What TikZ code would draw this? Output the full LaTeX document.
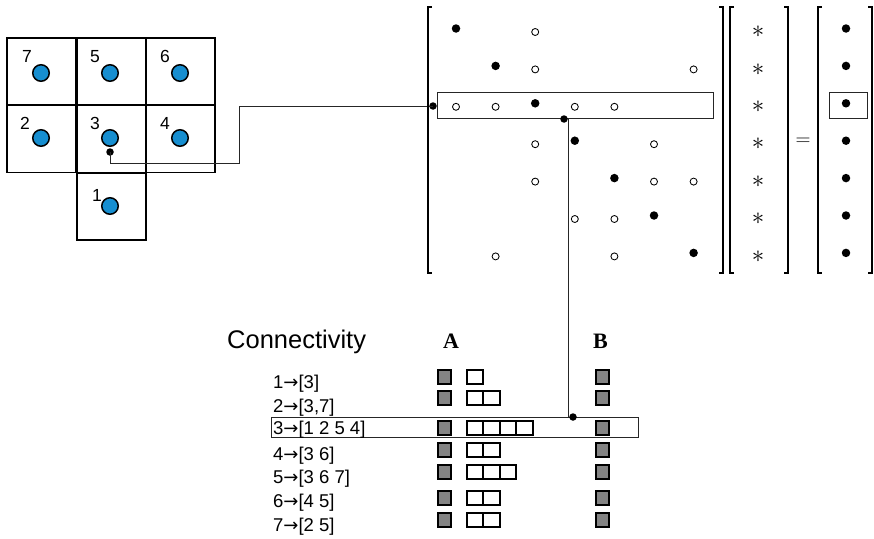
\documentclass[tikz,border=0pt]{standalone}
\usepackage{fontspec}
\setmainfont{Liberation Serif}
\newfontfamily\hv{Liberation Sans}
\newfontfamily\dv{DejaVu Sans}
\usetikzlibrary{calc}
\definecolor{cblue}{RGB}{22,142,208}
\definecolor{sqgray}{RGB}{132,132,132}
\newcommand{\rarr}{{\dv\fontsize{18}{18}\selectfont →}}
\tikzset{
  cellbox/.style={draw, line width=1.8pt, inner sep=0, minimum width=69pt, minimum height=67pt},
  blob/.style={circle, draw, line width=1.5pt, fill=cblue, minimum size=16.5pt, inner sep=0},
  num/.style={font=\hv\fontsize{17.5}{17.5}\selectfont, anchor=base west, inner sep=0},
  opn/.style={circle, draw, line width=0.85pt, minimum size=7pt, inner sep=0},
  fil/.style={circle, fill=black, minimum size=8.5pt, inner sep=0},
  jdot/.style={circle, fill=black, minimum size=7.5pt, inner sep=0},
  conn/.style={line width=0.8pt, draw=black!85},
  brk/.style={line width=1.7pt},
  hl/.style={draw=black!85, line width=0.9pt, inner sep=0},
  gsq/.style={draw, line width=1.9pt, fill=sqgray, minimum size=13.5pt, inner sep=0},
  osq/.style={draw, line width=1.9pt, minimum width=16.5pt, minimum height=13.5pt, inner sep=0},
  lst/.style={font=\hv\fontsize{18.5}{18.5}\selectfont, anchor=base west, inner sep=0},
  star/.style={font=\fontsize{24}{24}\selectfont, inner sep=0},
}
\begin{document}
\begin{tikzpicture}[x=1pt,y=-1pt]
\useasboundingbox (0,0) rectangle (874,538);
% ---- grid of cells
\node[cellbox] (c7) at (41.5,71.5) {};
\node[cellbox] (c5) at (111.5,71.5) {};
\node[cellbox] (c6) at (180.5,71.5) {};
\node[cellbox] (c2) at (41.5,139) {};
\node[cellbox] (c3) at (111.5,139) {};
\node[cellbox] (c4) at (180.5,139) {};
\node[cellbox] (c1) at (111.5,206.5) {};
\node[blob] (b7) at (41,73) {};
\node[blob] (b5) at (110,73) {};
\node[blob] (b6) at (180,73) {};
\node[blob] (b2) at (41,138) {};
\node[blob] (b3) at (110,138) {};
\node[blob] (b4) at (180,138) {};
\node[blob] (b1) at (110,206) {};
\node[num] (n7) at (22,62) {7};
\node[num] (n5) at (90,62) {5};
\node[num] (n6) at (160,62) {6};
\node[num] (n2) at (20,129) {2};
\node[num] (n3) at (90,129) {3};
\node[num] (n4) at (160,129) {4};
\node[num] (n1) at (92,201) {1};
% ---- connector cell 3 -> matrix row 3
\node[jdot] (d1) at (110,152) {};
\node[jdot] (d2) at (433,106) {};
\coordinate (k1) at (239,163);
\draw[conn] (d1.center) -- (d1 |- k1) -- (k1) -- (k1 |- d2) -- (d2.center);
% ---- brackets
\draw[brk] (432,7) -- (428,7) -- (428,273) -- (432,273);
\draw[brk] (719,7) -- (723,7) -- (723,273) -- (719,273);
\draw[brk] (734,7) -- (730,7) -- (730,273) -- (734,273);
\draw[brk] (784,7) -- (788,7) -- (788,273) -- (784,273);
\draw[brk] (822,7) -- (818,7) -- (818,273) -- (822,273);
\draw[brk] (868,7) -- (872,7) -- (872,273) -- (868,273);
% ---- matrix entries
\foreach \r in {1,...,7} {
  \node[fil] (m\r-\r) at ({456+39.6*(\r-1)},{32+37.4*(\r-1)-3.5}) {};
  \node[star] (s\r) at (758,{32+37.4*(\r-1)}) {$\ast$};
  \node[fil] (v\r) at (846,{32+37.4*(\r-1)-3.5}) {};
}
\foreach \r/\c in {1/3, 2/3, 2/7, 3/1, 3/2, 3/4, 3/5, 4/3, 4/6, 5/3, 5/6, 5/7, 6/4, 6/5, 7/2, 7/5} {
  \node[opn] (m\r-\c) at ({456+39.6*(\c-1)},{32+37.4*(\r-1)}) {};
}
\node[font=\fontsize{22}{22}\selectfont, inner sep=0] (eq) at (803,142) {$=$};
% ---- highlights
\node[hl, minimum width=276pt, minimum height=26pt] (mrow) at (575,105) {};
\node[hl, minimum width=38pt, minimum height=26pt] (vrow) at (848,105) {};
\node[hl, minimum width=367pt, minimum height=20pt] (crow) at (454.5,427) {};
% ---- connector matrix row -> connectivity row
\node[jdot] (d3) at (564,119) {};
\node[jdot] (d4) at (573,417) {};
\draw[conn] (d3.east) -- (d3.east |- d4);
% ---- connectivity
\node[anchor=base west, inner sep=0, font=\hv\fontsize{25.5}{25.5}\selectfont] (ctitle) at (227,348) {Connectivity};
\node[anchor=base west, inner sep=0, font=\bfseries\fontsize{22}{22}\selectfont] (tA) at (443,348) {A};
\node[anchor=base west, inner sep=0, font=\bfseries\fontsize{22}{22}\selectfont] (tB) at (593,348) {B};
\node[lst] (l1) at (273,388) {1\rarr[3]};
\node[lst] (l2) at (273,412) {2\rarr[3,7]};
\node[lst] (l3) at (273,434) {3\rarr[1 2 5 4]};
\node[lst] (l4) at (273,460) {4\rarr[3 6]};
\node[lst] (l5) at (273,483) {5\rarr[3 6 7]};
\node[lst] (l6) at (273,507) {6\rarr[4 5]};
\node[lst] (l7) at (273,531) {7\rarr[2 5]};
\foreach \i/\y/\n in {1/377/1, 2/398/2, 3/428/4, 4/450/2, 5/472/3, 6/498/2, 7/520/2} {
  \node[gsq] (ga\i) at (444.5,\y) {};
  \node[gsq] (gb\i) at (602.5,\y) {};
  \foreach \k in {1,...,\n} {
    \node[osq] (o\i-\k) at ({475+16.5*(\k-1)},\y) {};
  }
}
\end{tikzpicture}
\end{document}
